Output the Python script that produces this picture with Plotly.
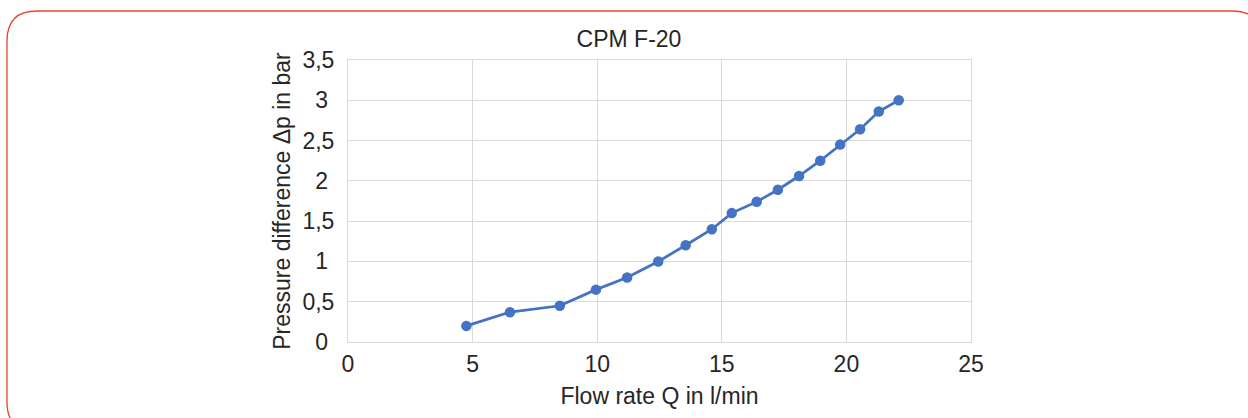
import plotly.graph_objects as go

# Data
flow_rate = [4.75, 6.5, 8.5, 9.95, 11.2, 12.45, 13.55, 14.6, 15.4, 16.4,
             17.25, 18.1, 18.95, 19.75, 20.55, 21.3, 22.1]
pressure = [0.2, 0.37, 0.45, 0.65, 0.8, 1.0, 1.2, 1.4, 1.6, 1.74,
            1.89, 2.06, 2.25, 2.45, 2.64, 2.86, 3.0]

x_ticks = [0, 5, 10, 15, 20, 25]
y_ticks = [0, 0.5, 1, 1.5, 2, 2.5, 3, 3.5]
y_tick_labels = ["0\u2008", "0,5", "1\u2008", "1,5", "2\u2008", "2,5", "3\u2008", "3,5"]

title_text = "CPM F-20"
x_title = "Flow rate Q in l/min"
y_title = "Pressure difference Δp in bar"

W, H = 1248, 418
L, R, T, B = 348, 277, 60, 76
FONT = "Liberation Sans"
FS = 23
TXT = "#262626"
GRID = "#d9d9d9"

fig = go.Figure()
fig.add_trace(go.Scatter(
    x=flow_rate, y=pressure, mode="lines+markers",
    line=dict(color="#4472C4", width=2.75),
    marker=dict(color="#4472C4", size=10.5),
    showlegend=False,
))

# rounded red frame, given in pixels and converted to paper coordinates
pw, ph = W - L - R, H - T - B
def px(x):
    return (x - L) / pw
def py(y):
    return (H - B - y) / ph

x0, y0, x1, y1, rad = 7, 11, 1262, 432, 30
path = (f"M {px(x0+rad)},{py(y0)} L {px(x1-rad)},{py(y0)} "
        f"Q {px(x1)},{py(y0)} {px(x1)},{py(y0+rad)} "
        f"L {px(x1)},{py(y1-rad)} Q {px(x1)},{py(y1)} {px(x1-rad)},{py(y1)} "
        f"L {px(x0+rad)},{py(y1)} Q {px(x0)},{py(y1)} {px(x0)},{py(y1-rad)} "
        f"L {px(x0)},{py(y0+rad)} Q {px(x0)},{py(y0)} {px(x0+rad)},{py(y0)} Z")
fig.add_shape(type="path", xref="paper", yref="paper", path=path,
              line=dict(color="#e8452c", width=1.3), layer="below")

fig.update_layout(
    width=W, height=H,
    margin=dict(l=L, r=R, t=T, b=B, autoexpand=False),
    paper_bgcolor="white", plot_bgcolor="white",
    separators=",.",
    font=dict(family=FONT, size=FS, color=TXT),
    title=dict(text=title_text, x=629 / W, xanchor="center",
               y=1 - 39 / H, yanchor="middle", yref="container",
               font=dict(family=FONT, size=FS, color=TXT)),
)
fig.update_xaxes(
    range=[0, 25], tickvals=x_ticks, showgrid=True, gridcolor=GRID, gridwidth=1,
    showline=True, linecolor=GRID, linewidth=1, mirror=True, zeroline=False,
    ticks="", ticklabelstandoff=1, tickfont=dict(family=FONT, size=FS, color=TXT),
    title=dict(text=x_title, standoff=12, font=dict(family=FONT, size=FS, color=TXT)),
)
fig.update_yaxes(
    range=[0, 3.5], tickvals=y_ticks, ticktext=y_tick_labels,
    showgrid=True, gridcolor=GRID, gridwidth=1,
    showline=True, linecolor=GRID, linewidth=1, mirror=True, zeroline=False,
    ticks="", ticklabelstandoff=8, tickfont=dict(family=FONT, size=FS, color=TXT),
    title=dict(text=y_title, standoff=5, font=dict(family=FONT, size=FS, color=TXT)),
)

fig.write_html("out.html", config={"displayModeBar": False},
               post_script="document.body.style.margin='0';")
